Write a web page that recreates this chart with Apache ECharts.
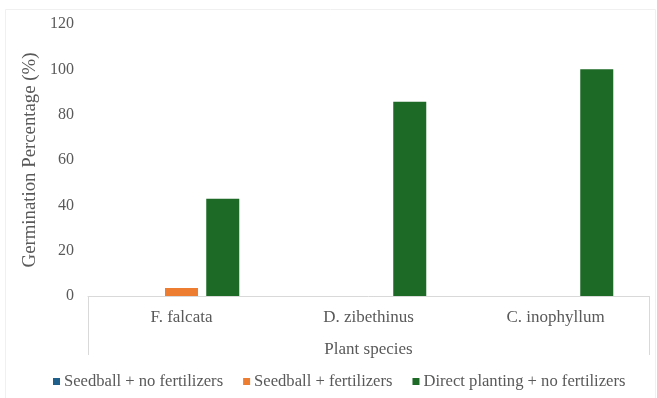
<!DOCTYPE html>
<html>
<head>
<meta charset="utf-8">
<script src="https://cdn.jsdelivr.net/npm/echarts@6/dist/echarts.min.js"></script>
<style>
  html, body { margin: 0; padding: 0; background: #fff; }
  #chart { width: 657px; height: 398px; }
</style>
</head>
<body>
<div id="chart"></div>
<script>
// Germination percentage by plant species and planting treatment
const species = ['F. falcata', 'D. zibethinus', 'C. inophyllum'];
const seedballNoFert = [0, 0, 0];
const seedballFert = [3.5, 0, 0];
const directNoFert = [42.9, 85.7, 100];
const yTicks = { min: 0, max: 120, interval: 20 };

const seriesNames = [
  'Seedball + no fertilizers',
  'Seedball + fertilizers',
  'Direct planting + no fertilizers'
];
const seriesColors = ['#1f5f8b', '#ed7d31', '#1d6a26'];
const seriesData = [seedballNoFert, seedballFert, directNoFert];

const textColor = '#595959';
const font = 'Liberation Serif';
const gridLeft = 88, gridRight = 8, gridTop = 24, gridBottom = 102;
const W = 657, H = 398;

const chart = echarts.init(document.getElementById('chart'));
chart.setOption({
  animation: false,
  backgroundColor: '#fff',
  textStyle: { fontFamily: font, color: textColor },
  grid: { left: gridLeft, right: gridRight, top: gridTop, bottom: gridBottom },
  legend: {
    bottom: 3,
    left: 48,
    itemWidth: 7,
    itemHeight: 7,
    itemGap: 20,
    icon: 'rect',
    textStyle: { fontFamily: font, fontSize: 16.6, color: textColor, padding: [0, 0, 0, -1] },
    data: seriesNames
  },
  xAxis: {
    type: 'category',
    data: species,
    name: 'Plant species',
    nameLocation: 'middle',
    nameGap: 45,
    nameTextStyle: { fontFamily: font, fontSize: 17, color: textColor },
    axisLine: { lineStyle: { color: '#d9d9d9', width: 1 } },
    axisTick: { show: false },
    axisLabel: { fontFamily: font, fontSize: 17, color: textColor, margin: 13 }
  },
  yAxis: {
    type: 'value',
    min: yTicks.min,
    max: yTicks.max,
    interval: yTicks.interval,
    name: 'Germination Percentage (%)',
    nameLocation: 'middle',
    nameGap: 39,
    nameTextStyle: { fontFamily: font, fontSize: 18.8, color: textColor },
    axisLine: { show: false },
    axisTick: { show: false },
    splitLine: { show: false },
    axisLabel: { fontFamily: font, fontSize: 16, color: textColor, margin: 14 }
  },
  series: seriesNames.map((name, i) => ({
    name,
    type: 'bar',
    data: seriesData[i],
    barWidth: 33,
    barGap: '25%',
    itemStyle: { color: seriesColors[i] }
  })),
  graphic: [
    // frame lines bounding the category label band
    { type: 'line', shape: { x1: gridLeft + 0.5, y1: H - gridBottom, x2: gridLeft + 0.5, y2: H - gridBottom + 59 },
      style: { stroke: '#d9d9d9', lineWidth: 1 } },
    { type: 'line', shape: { x1: W - gridRight + 0.5, y1: H - gridBottom, x2: W - gridRight + 0.5, y2: H - gridBottom + 59 },
      style: { stroke: '#d9d9d9', lineWidth: 1 } },
    // faint outer chart border
    { type: 'rect', shape: { x: 5.5, y: 9.5, width: 650, height: 390 },
      style: { fill: 'none', stroke: '#f0f0f0', lineWidth: 1 } }
  ]
});
</script>
</body>
</html>
